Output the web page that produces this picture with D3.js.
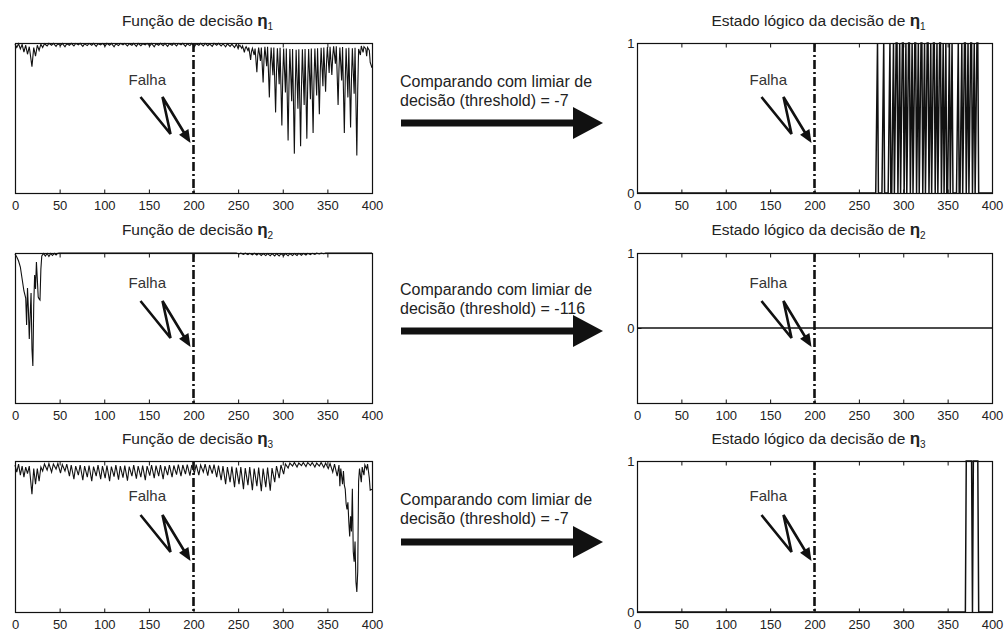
<!DOCTYPE html>
<html>
<head>
<meta charset="utf-8">
<script src="https://cdn.jsdelivr.net/npm/d3@7"></script>
<style>
  html, body { margin: 0; background: #fff; }
  svg { display: block; font-family: "Liberation Sans", Arial, sans-serif; }
</style>
</head>
<body>
<svg id="fig" width="1008" height="632"></svg>
<script>
// ---- data -------------------------------------------------------------
const xTicks = [0, 50, 100, 150, 200, 250, 300, 350, 400];
const failureSample = 200;
const thresholds = [-7, -116, -7];
const leftTitle = "Função de decisão";
const rightTitle = "Estado lógico da decisão de";
const subscripts = ["1", "2", "3"];
const faultLabel = "Falha";
const compareLine1 = "Comparando com limiar de";
const compareLine2 = ["decisão (threshold) = -7", "decisão (threshold) = -116", "decisão (threshold) = -7"];

// decision function eta1: [sample, value]
const eta1 = [
  [0,-0.3],[2,-1.2],[4,-0.2],[6,-1.6],[8,-0.4],[10,-2.4],[12,-0.6],[14,-3.0],[16,-1.0],[19,-6.3],
  [21,-1.2],[23,-3.5],[25,-0.6],[27,-2.0],[29,-0.3],[31,-1.2],[33,-0.2],
  [36,-0.8],[38,-0.1],[41,-0.6],[43,-0.1],[46,-0.9],[48,-0.2],[51,-0.7],[53,-0.1],[56,-1.0],[58,-0.2],
  [61,-0.6],[63,-0.1],[66,-0.8],[68,-0.1],[71,-0.5],[73,-0.1],[76,-0.9],[78,-0.2],[81,-0.7],[83,-0.1],
  [86,-0.6],[88,-0.1],[91,-0.9],[93,-0.2],[96,-0.5],[98,-0.1],[101,-0.8],[103,-0.1],[106,-0.6],[108,-0.1],
  [111,-1.0],[113,-0.2],[116,-0.7],[118,-0.1],[121,-0.5],[123,-0.1],[126,-0.8],[128,-0.2],[131,-0.6],[133,-0.1],
  [136,-0.9],[138,-0.1],[141,-0.7],[143,-0.2],[146,-0.5],[148,-0.1],[151,-0.8],[153,-0.1],[156,-1.0],[158,-0.2],
  [161,-0.6],[163,-0.1],[166,-0.7],[168,-0.1],[171,-0.9],[173,-0.2],[176,-0.6],[178,-0.1],[181,-0.8],[183,-0.1],
  [186,-0.5],[188,-0.1],[191,-0.9],[193,-0.2],[196,-0.7],[198,-0.1],[201,-1.0],[203,-0.2],[206,-0.6],[208,-0.1],
  [211,-0.8],[213,-0.1],[216,-0.7],[218,-0.2],[221,-0.9],[223,-0.1],[226,-0.6],[228,-0.1],[231,-0.8],[233,-0.2],
  [236,-1.0],[238,-0.2],[241,-0.9],[243,-0.3],[246,-1.2],[248,-0.3],
  [250,-1.5],[251,-0.8],[252,-0.6],[254,-1.4],[255,-0.8],
  [257,-2.5],[258,-1.4],[259,-1.0],[261,-2.0],[262,-1.2],
  [264,-4.5],[265,-2.2],[266,-1.4],[268,-3.2],[269,-1.5],
  [271,-7.8],[272,-3.4],[273,-1.2],[275,-4.8],[276,-1.2],
  [278,-10.5],[279,-4.5],[280,-1.0],[282,-6.2],[283,-1.0],
  [285,-14.5],[286,-6.0],[287,-1.2],[289,-8.6],[290,-1.2],
  [292,-18.5],[293,-7.5],[294,-1.4],[296,-11.0],[297,-1.3],
  [299,-22.0],[300,-9.0],[301,-1.5],[303,-13.2],[304,-1.5],
  [306,-26.0],[307,-11.0],[308,-1.6],[310,-15.5],[311,-1.6],
  [313,-29.5],[314,-12.5],[315,-1.8],[317,-17.5],[318,-1.7],
  [320,-27.5],[321,-11.5],[322,-1.7],[324,-16.5],[325,-1.6],
  [327,-25.5],[328,-10.5],[329,-1.6],[331,-15.0],[332,-1.5],
  [334,-24.0],[335,-10.0],[336,-1.5],[338,-14.0],[339,-1.4],
  [341,-19.0],[342,-8.0],[343,-1.3],[345,-11.5],[346,-1.2],
  [348,-13.0],[349,-5.5],[350,-1.1],[352,-8.0],[353,-1.0],
  [355,-8.5],[356,-3.5],[357,-0.9],[359,-5.5],[360,-0.9],
  [362,-16.5],[363,-7.0],[364,-1.2],[366,-10.0],[367,-1.1],
  [369,-24.0],[370,-10.0],[371,-1.4],[373,-14.5],[374,-1.3],
  [376,-22.5],[377,-9.5],[378,-1.4],[380,-13.5],[381,-1.3],
  [383,-30.0],[384,-12.5],[385,-1.6],[387,-3.2],[388,-0.8],[390,-2.5],[391,-1.0],[393,-1.5],
  [394,-3.5],[395,-1.2],[397,-2.0],[398,-5.2],[400,-6.6]
];

// decision function eta2
const eta2 = [
  [0,-1],[2,-4],[4,-8],[6,-14],[8,-26],[10,-38],[12,-45],[13,-72],[14,-35],[15,-56],[16,-86],[17,-62],
  [18,-40],[19,-96],[20,-113],[21,-52],[22,-22],[23,-36],[24,-9],[25,-26],[26,-44],[27,-46],[28,-47],
  [29,-16],[30,-3],[32,-0.5],[34,-3],[36,-0.5],[38,-3.5],[40,-0.5],[42,-2.5],[44,-0.3],[46,-2],[48,-0.2],
  [50,0],[248,0],
  [251,-1.0],[253,-0.2],[256,-1.3],[258,-0.2],[261,-1.5],[263,-0.3],[266,-1.8],[268,-0.3],[271,-2.0],[273,-0.4],
  [276,-2.4],[278,-0.5],[281,-2.6],[283,-0.5],[286,-2.8],[288,-0.6],[291,-3.0],[293,-0.6],[296,-3.0],[298,-0.6],
  [301,-2.8],[303,-0.5],[306,-2.8],[308,-0.5],[311,-2.6],[313,-0.5],[316,-2.4],[318,-0.4],[321,-2.2],[323,-0.4],
  [326,-2.0],[328,-0.3],[331,-1.6],[333,-0.3],[336,-1.3],[338,-0.2],[341,-1.0],[343,-0.2],[346,-0.8],[348,-0.1],
  [352,0],[400,0]
];

// decision function eta3
const eta3 = [
  [0,-0.8],[2,-2.2],[4,-0.6],[6,-2.8],[8,-1.0],[10,-3.2],[12,-1.2],[14,-2.5],[16,-1.0],[19,-6.6],[21,-1.5],
  [23,-4.6],[25,-1.5],[27,-4.0],[29,-1.2],[31,-2.0],[33,-0.6],[36,-1.8],[38,-0.5],[41,-2.2],[43,-0.6],
  [46,-1.6],[48,-0.5],[51,-2.4],[53,-0.7],[56,-2.0],[58,-0.6],
  [61,-3.0],[63,-0.8],[66,-3.6],[68,-1.0],[71,-2.8],[73,-0.8],[76,-3.8],[78,-1.0],[81,-3.2],[83,-0.9],
  [86,-4.0],[88,-1.1],[91,-3.0],[93,-0.8],[96,-3.6],[98,-1.0],[101,-3.4],[103,-0.9],[106,-4.0],[108,-1.1],
  [111,-3.1],[113,-0.8],[116,-3.7],[118,-1.0],[121,-3.3],[123,-0.9],[126,-3.9],[128,-1.1],[131,-3.0],[133,-0.8],
  [136,-3.5],[138,-1.0],[141,-3.2],[143,-0.9],[146,-3.8],[148,-1.0],[151,-2.9],[153,-0.8],[156,-3.4],[158,-0.9],
  [161,-3.0],[163,-0.8],[166,-3.6],[168,-1.0],[171,-2.8],[173,-0.8],[176,-3.2],[178,-0.9],[181,-2.7],[183,-0.7],
  [186,-3.0],[188,-0.8],[191,-2.6],[193,-0.7],[196,-2.9],[198,-0.8],
  [201,-2.4],[203,-0.7],[206,-2.8],[208,-0.8],[211,-2.2],[213,-0.6],[216,-2.9],[218,-0.8],[221,-2.5],[223,-0.7],
  [226,-3.2],[228,-0.9],
  [231,-3.8],[233,-1.0],[236,-4.6],[238,-1.2],[241,-4.2],[243,-1.1],[246,-5.2],[248,-1.3],[251,-4.6],[253,-1.2],
  [256,-5.6],[258,-1.4],[261,-4.8],[263,-1.2],[266,-5.8],[268,-1.5],[271,-5.0],[273,-1.3],[276,-6.0],[278,-1.5],
  [281,-5.2],[283,-1.3],[286,-5.9],[288,-1.4],
  [291,-4.2],[293,-1.0],[296,-3.4],[298,-0.8],[301,-2.6],[303,-0.6],
  [306,-1.4],[308,-0.4],[311,-1.0],[313,-0.3],[316,-1.2],[318,-0.4],[321,-0.9],[323,-0.3],[326,-1.1],[328,-0.3],
  [331,-0.9],[333,-0.3],[336,-1.2],[338,-0.4],[341,-1.0],[343,-0.3],[346,-1.3],[348,-0.4],[351,-1.5],[353,-0.5],
  [356,-2.2],[358,-0.6],[361,-3.0],[363,-0.8],
  [364,-5.0],[365,-1.5],[367,-4.6],[368,-2.0],[369,-4.8],[370,-5.6],[371,-8.5],[372,-9.6],[373,-8.2],[374,-12],
  [375,-15],[376,-11],[377,-14],[378,-5.5],[379,-18],[380,-20],[381,-16],[382,-24],[383,-26],[384,-22],
  [385,-4],[386,-1.5],[388,-4.2],[389,-1.2],[391,-2.8],[392,-0.8],[394,-1.6],[395,-0.6],[397,-3.4],[398,-5.8],
  [400,-5.6]
];

const etaSeries = [eta1, eta2, eta3];
const etaDomains = [[-40, 0], [-150, 0], [-30, 0]];
const stateDomains = [[0, 1], [-1, 1], [0, 1]];
const stateTicks = [0, 1];

// ---- layout -----------------------------------------------------------
const leftRange = [15, 372];
const rightRange = [637, 992];
const rows = [
  { top: 43,  bottom: 193, titleY: 26,  text: [87, 106], arrowY: 123, label: 42, bolt: 0 },
  { top: 253, bottom: 403, titleY: 235, text: [295, 314], arrowY: 331, label: 35, bolt: -6 },
  { top: 461, bottom: 612, titleY: 444, text: [505, 524], arrowY: 542, label: 40, bolt: 0 }
];

const svg = d3.select("#fig");
const ink = "#111";
const textInk = "#222";

function title(cx, y, main, sub) {
  const t = svg.append("text")
    .attr("x", cx).attr("y", y)
    .attr("text-anchor", "middle")
    .attr("font-size", 15.5)
    .attr("fill", textInk);
  t.append("tspan").text(main + " ");
  t.append("tspan").attr("font-weight", "bold").attr("font-size", 17).text("η");
  t.append("tspan").attr("dy", 4).attr("font-size", 10).text(sub);
}

function frame(g, x, y, row, yTicks) {
  g.append("rect")
    .attr("x", x.range()[0] + 0.5).attr("y", row.top + 0.5)
    .attr("width", x.range()[1] - x.range()[0])
    .attr("height", row.bottom - row.top)
    .attr("fill", "none").attr("stroke", ink).attr("stroke-width", 1.2);

  const bottom = g.append("g").attr("transform", `translate(0,${row.bottom + 0.5})`)
    .call(d3.axisBottom(x).tickValues(xTicks).tickSize(-4).tickPadding(7).tickFormat(d3.format("d")));
  bottom.select(".domain").remove();
  bottom.selectAll("line").attr("stroke", ink);
  bottom.selectAll("text").attr("font-size", 13).attr("fill", textInk)
    .attr("font-family", "'Liberation Sans', Arial, sans-serif");

  const topAx = g.append("g").attr("transform", `translate(0,${row.top + 0.5})`)
    .call(d3.axisTop(x).tickValues(xTicks).tickSize(-4).tickFormat(""));
  topAx.select(".domain").remove();
  topAx.selectAll("line").attr("stroke", ink);

  if (yTicks) {
    const left = g.append("g").attr("transform", `translate(${x.range()[0] + 0.5},0)`)
      .call(d3.axisLeft(y).tickValues(yTicks).tickSize(-4).tickPadding(3).tickFormat(d3.format("d")));
    left.select(".domain").remove();
    left.selectAll("line").attr("stroke", ink);
    left.selectAll("text").attr("font-size", 13).attr("fill", textInk)
      .attr("font-family", "'Liberation Sans', Arial, sans-serif");
  }
}

function failureMark(g, x, row) {
  const xf = x(failureSample);
  g.append("line")
    .attr("x1", xf).attr("x2", xf)
    .attr("y1", row.top).attr("y2", row.bottom)
    .attr("stroke", ink).attr("stroke-width", 2.6)
    .attr("stroke-dasharray", "9,3,2,3");

  g.append("text")
    .attr("x", xf - 65).attr("y", row.top + row.label)
    .attr("font-size", 15).attr("fill", "#333")
    .text(faultLabel);

  // lightning-shaped pointer towards the failure instant
  const b = row.bolt;
  const pts = [[xf - 53, row.top + 54 + b], [xf - 23, row.top + 91 + b], [xf - 31, row.top + 54 + b], [xf - 8, row.top + 92 + b]];
  g.append("path")
    .attr("d", d3.line()(pts))
    .attr("fill", "none").attr("stroke", ink).attr("stroke-width", 2.6)
    .attr("stroke-linejoin", "miter");
  const tip = [xf - 3, row.top + 100 + b];
  const from = pts[2];
  const ang = Math.atan2(tip[1] - from[1], tip[0] - from[0]);
  const len = 13, half = 5.5;
  const bx = tip[0] - len * Math.cos(ang), by = tip[1] - len * Math.sin(ang);
  g.append("path")
    .attr("d", d3.line()([
      tip,
      [bx + half * Math.sin(ang), by - half * Math.cos(ang)],
      [bx - half * Math.sin(ang), by + half * Math.cos(ang)]
    ]) + "Z")
    .attr("fill", ink);
}

rows.forEach((row, i) => {
  // left: decision function
  const xL = d3.scaleLinear().domain([0, 400]).range(leftRange);
  const yL = d3.scaleLinear().domain(etaDomains[i]).range([row.bottom, row.top]);
  const gL = svg.append("g");
  title((leftRange[0] + leftRange[1]) / 2 + 4, row.titleY, leftTitle, subscripts[i]);
  gL.append("path")
    .datum(etaSeries[i])
    .attr("d", d3.line().x(d => xL(d[0])).y(d => yL(d[1])))
    .attr("fill", "none").attr("stroke", ink).attr("stroke-width", 1.1);
  frame(gL, xL, yL, row, null);
  failureMark(gL, xL, row);

  // right: logical state after comparing with the threshold
  const xR = d3.scaleLinear().domain([0, 400]).range(rightRange);
  const yR = d3.scaleLinear().domain(stateDomains[i]).range([row.bottom, row.top]);
  const gR = svg.append("g");
  title((rightRange[0] + rightRange[1]) / 2 + 4, row.titleY, rightTitle, subscripts[i]);
  const state = etaSeries[i].map(d => [d[0], d[1] < thresholds[i] ? 1 : 0]);
  gR.append("path")
    .datum(state)
    .attr("d", d3.line().x(d => xR(d[0])).y(d => yR(d[1])))
    .attr("fill", "none").attr("stroke", ink).attr("stroke-width", 1.5);
  frame(gR, xR, yR, row, stateTicks);
  failureMark(gR, xR, row);

  // comparison caption and block arrow
  const cap = svg.append("text").attr("font-size", 16).attr("fill", textInk);
  cap.append("tspan").attr("x", 400).attr("y", row.text[0]).text(compareLine1);
  cap.append("tspan").attr("x", 400).attr("y", row.text[1]).text(compareLine2[i]);

  svg.append("rect")
    .attr("x", 401).attr("y", row.arrowY - 3.5)
    .attr("width", 175).attr("height", 7)
    .attr("fill", ink);
  svg.append("path")
    .attr("d", d3.line()([[573, row.arrowY - 16], [603, row.arrowY], [573, row.arrowY + 16]]) + "Z")
    .attr("fill", ink);
});
</script>
</body>
</html>
